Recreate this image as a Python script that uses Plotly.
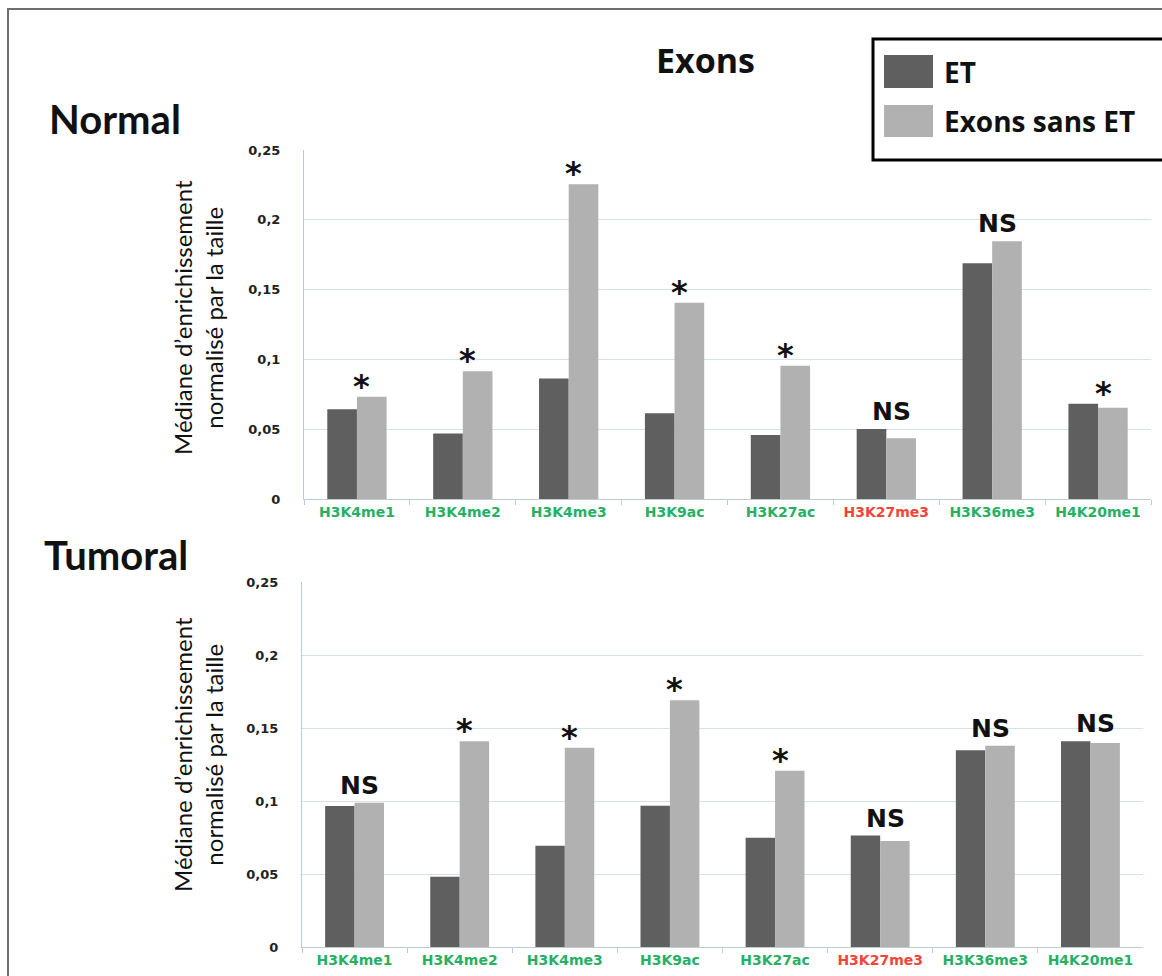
import plotly.graph_objects as go

# Histone marks on the x axis and colour of each tick label
marks = ["H3K4me1", "H3K4me2", "H3K4me3", "H3K9ac", "H3K27ac",
         "H3K27me3", "H3K36me3", "H4K20me1"]
mark_colors = ["#27b064", "#27b064", "#27b064", "#27b064", "#27b064",
               "#f2453a", "#27b064", "#27b064"]

series_names = ["ET", "Exons sans ET"]

# Median size-normalised enrichment, normal tissue
normal_et = [0.0643, 0.0470, 0.0864, 0.0614, 0.0458, 0.0501, 0.1688, 0.0683]
normal_sans = [0.0733, 0.0915, 0.2254, 0.1406, 0.0955, 0.0435, 0.1846, 0.0654]
normal_sig = ["*", "*", "*", "*", "*", "NS", "NS", "*"]

# Median size-normalised enrichment, tumoral tissue
tumor_et = [0.0966, 0.0482, 0.0694, 0.0968, 0.0749, 0.0763, 0.1347, 0.1409]
tumor_sans = [0.0988, 0.1410, 0.1365, 0.1690, 0.1208, 0.0726, 0.1379, 0.1397]
tumor_sig = ["NS", "*", "*", "*", "*", "NS", "NS", "NS"]

y_ticks = [0, 0.05, 0.1, 0.15, 0.2, 0.25]
y_ticktext = ["0", "0,05", "0,1", "0,15", "0,2", "0,25"]

W, H = 1162, 976
DARK, LIGHT = "#5f5f5f", "#b1b1b1"
GRID = "#d3e3ec"
AXIS = "#b9cdd8"


def px(x):
    return x / W


def py(y):
    return 1 - y / H


tick_labels = [f'<span style="color:{c}">{m}</span>' for m, c in zip(marks, mark_colors)]

fig = go.Figure()
panels = [
    ("x", "y", normal_et, normal_sans, normal_sig),
    ("x2", "y2", tumor_et, tumor_sans, tumor_sig),
]
for xa, ya, et, sans, sig in panels:
    fig.add_trace(go.Bar(x=marks, y=et, name=series_names[0], marker_color=DARK,
                         marker_line_width=0, xaxis=xa, yaxis=ya, showlegend=False))
    fig.add_trace(go.Bar(x=marks, y=sans, name=series_names[1], marker_color=LIGHT,
                         marker_line_width=0, xaxis=xa, yaxis=ya, showlegend=False))

annotations = []
for xa, ya, et, sans, sig in panels:
    for i, (a, b, s) in enumerate(zip(et, sans, sig)):
        star = s == "*"
        annotations.append(dict(
            x=i, y=max(a, b), xref=xa, yref=ya, text=s, showarrow=False,
            xanchor="center", yanchor="bottom", xshift=5,
            yshift=-10 if star else 1,
            font=dict(family="DejaVu Sans", size=32 if star else 25,
                      color="#111111", weight="bold"),
        ))

axis_common_x = dict(type="category", showline=True, linecolor=AXIS, linewidth=1,
                     ticks="outside", tickson="boundaries", ticklen=5, tickcolor=AXIS,
                     showgrid=False, zeroline=False, automargin=False,
                     tickmode="array", tickvals=marks, ticktext=tick_labels,
                     tickfont=dict(family="DejaVu Sans", size=14, weight="bold"))
axis_common_y = dict(range=[0, 0.25], showline=True, linecolor=AXIS, linewidth=1,
                     showgrid=True, gridcolor=GRID, gridwidth=1, zeroline=False,
                     tickmode="array", tickvals=y_ticks, ticktext=y_ticktext,
                     ticks="", ticklabelstandoff=20, automargin=False,
                     tickfont=dict(family="DejaVu Sans", size=13, weight="bold", color="#222222"))

fig.update_layout(
    width=W, height=H,
    margin=dict(l=0, r=0, t=0, b=0),
    paper_bgcolor="white", plot_bgcolor="white",
    barmode="group", bargap=0.44, bargroupgap=0,
    xaxis=dict(domain=[px(304), px(1151)], anchor="y", **axis_common_x),
    yaxis=dict(domain=[py(499), py(150)], anchor="x", **axis_common_y),
    xaxis2=dict(domain=[px(302), px(1143)], anchor="y2", **axis_common_x),
    yaxis2=dict(domain=[py(947), py(582)], anchor="x2", **axis_common_y),
    showlegend=False,
)

# Panel titles and axis titles
title_font = dict(family="Lato", size=40, color="#111111", weight="bold")
y_title = "Médiane d’enrichissement<br>normalisé par la taille"
y_title_font = dict(family="Lato", size=24, color="#111111")
annotations += [
    dict(x=px(115), y=py(119), xref="paper", yref="paper", text="Normal",
         showarrow=False, font=title_font, xanchor="center", yanchor="middle"),
    dict(x=px(116), y=py(555), xref="paper", yref="paper", text="Tumoral",
         showarrow=False, font=title_font, xanchor="center", yanchor="middle"),
    dict(x=px(705), y=py(60), xref="paper", yref="paper", text="Exons",
         showarrow=False, font=dict(family="Open Sans", size=34, color="#111111", weight="bold"),
         xanchor="center", yanchor="middle"),
    dict(x=px(198), y=py(318), xref="paper", yref="paper", text=y_title, textangle=-90,
         showarrow=False, font=y_title_font, xanchor="center", yanchor="middle"),
    dict(x=px(198), y=py(755), xref="paper", yref="paper", text=y_title, textangle=-90,
         showarrow=False, font=y_title_font, xanchor="center", yanchor="middle"),
]

# Legend drawn as a framed box with large swatches
legend_font = dict(family="Open Sans", size=28, color="#111111", weight="bold")
shapes = [
    dict(type="rect", xref="paper", yref="paper", x0=px(8), x1=px(1190), y0=py(1000), y1=py(9),
         line=dict(color="#6e6e6e", width=2), fillcolor="rgba(0,0,0,0)", layer="above"),
    dict(type="rect", xref="paper", yref="paper", x0=px(873), x1=px(1190), y0=py(160), y1=py(39),
         line=dict(color="#000000", width=3), fillcolor="rgba(0,0,0,0)", layer="above"),
    dict(type="rect", xref="paper", yref="paper", x0=px(884), x1=px(933), y0=py(88), y1=py(55),
         line=dict(width=0), fillcolor=DARK, layer="above"),
    dict(type="rect", xref="paper", yref="paper", x0=px(884), x1=px(933), y0=py(137), y1=py(105),
         line=dict(width=0), fillcolor=LIGHT, layer="above"),
]
for name, yc in zip(series_names, [72, 121]):
    annotations.append(dict(x=px(942), y=py(yc), xref="paper", yref="paper", text=name,
                            showarrow=False, font=legend_font, xanchor="left", yanchor="middle"))

fig.update_layout(annotations=annotations, shapes=shapes)

fig.write_html("out.html")
